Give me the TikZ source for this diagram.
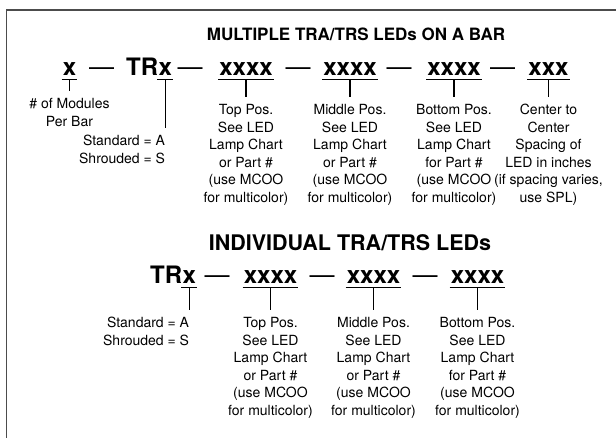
\documentclass[tikz,border=0pt]{standalone}
\usepackage{fontspec}
\setmainfont{TeX Gyre Heros}
\usetikzlibrary{positioning}
\tikzset{
  code/.style={font=\fontsize{24}{24}\selectfont\bfseries, inner xsep=1pt, inner ysep=0pt, anchor=base},
  joiner/.style={code, font=\fontsize{25}{25}\selectfont},
  note/.style={font=\fontsize{14}{17.5}\selectfont, align=center, inner sep=0pt},
  rule/.style={line width=1.5pt},
  frame/.style={line width=1.4pt, draw=black!70},
}
\newcommand{\codebar}[1]{\draw[rule] ([yshift=-4.5pt]#1.base west) -- ([yshift=-4.5pt]#1.base east);}
\begin{document}
\begin{tikzpicture}[x=1pt,y=-1pt]
\useasboundingbox (0,0) rectangle (616,437);
\clip (0,0) rectangle (616,437);
\draw[frame] (6.5,10) rectangle (660,480);

% bar of several modules
\node[font=\fontsize{17}{17}\selectfont\bfseries, anchor=base, inner sep=0pt] (head1) at (356,40.5) {MULTIPLE TRA/TRS LEDs ON A BAR};
\node[code] (mods) at (69.5,75) {x};
\node[joiner] (da1) at (101.5,75) {---};
\node[code, anchor=base west, inner xsep=0pt] (tr1) at (126,75) {TR};
\node[code, anchor=base west] (sel1) at ([xshift=-1pt]tr1.base east) {x};
\node[joiner] (da2) at (190,75) {---};
\node[code] (pa1) at (246,75) {xxxx};
\node[joiner] (da3) at (298,75) {---};
\node[code] (pa2) at (350,75) {xxxx};
\node[joiner] (da4) at (399,75) {---};
\node[code] (pa3) at (454,75) {xxxx};
\node[joiner] (da5) at (502.5,75) {---};
\node[code] (spc) at (548.5,75) {xxx};
\foreach \n in {mods,sel1,pa1,pa2,pa3,spc} {\codebar{\n}}

\node[note, below=23pt of mods] (modsn) {\# of Modules\\Per Bar};
\node[note, align=right, anchor=north east] (std1) at ([yshift=-60pt]sel1.base) {Standard = A\\Shrouded = S};
\node[note, below=29pt of pa1] (pa1n) {Top Pos.\\See LED\\Lamp Chart\\or Part \#\\(use MCOO\\for multicolor)};
\node[note, below=29pt of pa2] (pa2n) {Middle Pos.\\See LED\\Lamp Chart\\or Part \#\\(use MCOO\\for multicolor)};
\node[note, below=29pt of pa3] (pa3n) {Bottom Pos.\\See LED\\Lamp Chart\\for Part \#\\(use MCOO\\for multicolor)};
\node[note, below=29pt of spc] (spcn) {Center to\\Center\\Spacing of\\LED in inches\\(if spacing varies,\\use SPL)};

\draw[rule] ([yshift=-4.5pt]mods.base) -- ([yshift=7pt]modsn.north);
\draw[rule] ([yshift=-4.5pt]sel1.base) -- ([yshift=7pt]sel1.base |- std1.north);
\draw[rule] ([yshift=-4.5pt]pa1.base) -- ([yshift=7pt]pa1n.north);
\draw[rule] ([yshift=-4.5pt]pa2.base) -- ([yshift=7pt]pa2n.north);
\draw[rule] ([yshift=-4.5pt]pa3.base) -- ([yshift=7pt]pa3n.north);
\draw[rule] ([yshift=-4.5pt]spc.base) -- ([yshift=7pt]spcn.north);

% single module
\node[font=\fontsize{21.5}{21.5}\selectfont\bfseries, anchor=base, inner sep=0pt] (head2) at (350,250) {INDIVIDUAL TRA/TRS LEDs};
\node[code, anchor=base west, inner xsep=0pt] (tr2) at (150,283) {TR};
\node[code, anchor=base west] (sel2) at ([xshift=-1pt]tr2.base east) {x};
\node[joiner] (db1) at (217,283) {---};
\node[code] (pb1) at (270.5,283) {xxxx};
\node[joiner] (db2) at (322,283) {---};
\node[code] (pb2) at (373.5,283) {xxxx};
\node[joiner] (db3) at (425,283) {---};
\node[code] (pb3) at (477.5,283) {xxxx};
\foreach \n in {sel2,pb1,pb2,pb3} {\codebar{\n}}

\node[note, align=right, anchor=north east] (std2) at ([yshift=-34pt]sel2.base) {Standard = A\\Shrouded = S};
\node[note, below=34pt of pb1] (pb1n) {Top Pos.\\See LED\\Lamp Chart\\or Part \#\\(use MCOO\\for multicolor)};
\node[note, below=34pt of pb2] (pb2n) {Middle Pos.\\See LED\\Lamp Chart\\or Part \#\\(use MCOO\\for multicolor)};
\node[note, below=34pt of pb3] (pb3n) {Bottom Pos.\\See LED\\Lamp Chart\\for Part \#\\(use MCOO\\for multicolor)};

\draw[rule] ([yshift=-4.5pt]sel2.base) -- ([yshift=7pt]sel2.base |- std2.north);
\draw[rule] ([yshift=-4.5pt]pb1.base) -- ([yshift=7pt]pb1n.north);
\draw[rule] ([yshift=-4.5pt]pb2.base) -- ([yshift=7pt]pb2n.north);
\draw[rule] ([yshift=-4.5pt]pb3.base) -- ([yshift=7pt]pb3n.north);
\end{tikzpicture}
\end{document}
